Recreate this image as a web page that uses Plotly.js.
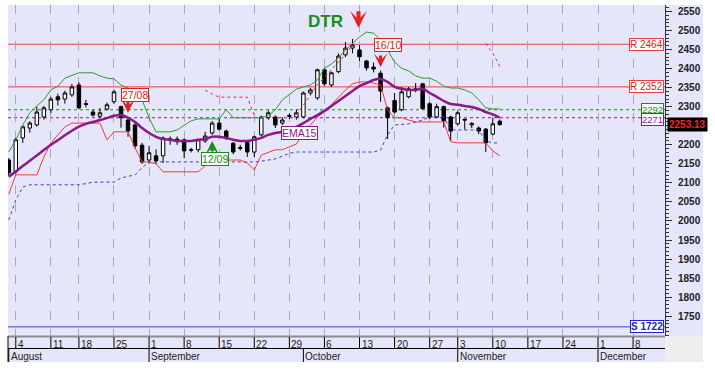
<!DOCTYPE html>
<html><head><meta charset="utf-8">
<script src="https://cdn.plot.ly/plotly-3.0.1.min.js"></script>
<style>html,body{margin:0;padding:0;background:#fff;}#chart{width:715px;height:374px;}</style>
</head><body><div id="chart"></div>
<script>
// ---- trading days (categories), incl. empty future days to the right edge
const dates = [
 '2014-08-01','2014-08-04','2014-08-05','2014-08-06','2014-08-07','2014-08-08','2014-08-11','2014-08-12','2014-08-13','2014-08-14',
 '2014-08-18','2014-08-19','2014-08-20','2014-08-21','2014-08-22','2014-08-25','2014-08-26','2014-08-27','2014-08-28','2014-08-29',
 '2014-09-01','2014-09-02','2014-09-03','2014-09-04','2014-09-05','2014-09-08','2014-09-09','2014-09-10','2014-09-11','2014-09-12',
 '2014-09-15','2014-09-16','2014-09-17','2014-09-18','2014-09-19','2014-09-22','2014-09-23','2014-09-24','2014-09-25','2014-09-26',
 '2014-09-29','2014-09-30','2014-10-01','2014-10-02','2014-10-03','2014-10-06','2014-10-07','2014-10-08','2014-10-09','2014-10-10',
 '2014-10-13','2014-10-14','2014-10-15','2014-10-16','2014-10-17','2014-10-20','2014-10-21','2014-10-22','2014-10-23','2014-10-24',
 '2014-10-27','2014-10-29','2014-10-30','2014-10-31','2014-11-03','2014-11-04','2014-11-05','2014-11-06','2014-11-07','2014-11-10',
 '2014-11-11',
 '2014-11-12','2014-11-13','2014-11-14','2014-11-17','2014-11-18','2014-11-19','2014-11-20','2014-11-21','2014-11-24','2014-11-25',
 '2014-11-26','2014-11-27','2014-11-28','2014-12-01','2014-12-02','2014-12-03','2014-12-04','2014-12-05','2014-12-08','2014-12-09',
 '2014-12-10','2014-12-11','2014-12-12'
];
const nBars = 71;

const open = [2160,2129,2218,2244,2252,2273,2292,2326,2320,2331, 2357,2308,2286,2275,2294,2313,2300,2265,2252,2199,
 2160,2171,2171,2216,2215,2213,2187,2187,2210,2231, 2257,2236,2204,2193,2206,2181,2226,2271,2273,2257,
 2277,2273,2273,2336,2323,2397,2357,2392,2436,2454, 2449,2420,2404,2388,2297,2316,2292,2326,2347,2360,
 2308,2273,2300,2273,2255,2267,2252,2244,2241,2228, 2262];
const high = [2165,2218,2252,2262,2300,2302,2326,2334,2342,2360, 2364,2318,2292,2296,2311,2345,2303,2268,2256,2205,
 2197,2188,2222,2222,2222,2216,2192,2216,2234,2262, 2270,2240,2207,2200,2209,2224,2276,2290,2277,2273,
 2282,2292,2340,2350,2400,2402,2392,2440,2470,2478, 2462,2423,2416,2395,2300,2336,2352,2352,2362,2362,
 2312,2308,2303,2276,2290,2268,2260,2248,2244,2270, 2266];
const low = [2118,2124,2205,2232,2248,2266,2283,2303,2308,2326, 2293,2298,2274,2270,2290,2308,2245,2221,2190,2150,
 2150,2150,2152,2200,2200,2165,2180,2180,2205,2226, 2237,2213,2175,2185,2168,2168,2222,2266,2244,2252,
 2268,2266,2270,2330,2318,2355,2352,2388,2430,2440, 2420,2395,2390,2313,2215,2282,2288,2322,2338,2292,
 2268,2270,2245,2210,2250,2240,2244,2228,2181,2225, 2250];
const close = [2126,2213,2247,2257,2286,2297,2320,2318,2336,2352, 2297,2306,2278,2284,2305,2339,2271,2236,2197,2155,
 2179,2158,2218,2214,2208,2184,2186,2213,2223,2257, 2241,2218,2181,2191,2181,2221,2273,2284,2252,2265,
 2275,2284,2336,2344,2397,2360,2389,2433,2454,2462, 2431,2402,2399,2341,2271,2286,2339,2347,2345,2295,
 2273,2300,2263,2236,2284,2265,2256,2236,2205,2255, 2253.13];

const ema15 = [2116,2130,2144,2158,2172,2186,2200,2212,2225,2237, 2248,2255,2260,2265,2270,2276,2278,2271,2260,2244,
 2231,2221,2215,2213,2210,2210,2210,2213,2215,2221, 2221,2218,2213,2210,2210,2213,2218,2226,2231,2234,
 2239,2247,2257,2268,2278,2289,2302,2315,2328,2341, 2354,2362,2370,2373,2365,2352,2347,2344,2344,2347,
 2336,2326,2315,2307,2305,2302,2299,2294,2286,2280, 2271];
const upperBand = [2181,2213,2252,2284,2302,2318,2344,2354,2375,2383, 2389,2389,2389,2381,2375,2373,2357,2349,2339,2318,
 2271,2234,2234,2234,2239,2252,2263,2268,2268,2268, 2268,2292,2271,2271,2271,2271,2271,2276,2292,2318,
 2333,2346,2352,2357,2370,2401,2412,2428,2449,2467, 2483,2496,2493,2475,2449,2417,2401,2394,2381,2375,
 2375,2367,2354,2349,2349,2344,2336,2318,2297,2294, 2294];
const lowerBand = [2070,2121,2121,2121,2121,2168,2205,2226,2247,2257, 2257,2257,2257,2257,2213,2234,2234,2234,2192,2155,
 2155,2150,2129,2129,2129,2129,2129,2129,2145,2160, 2160,2160,2160,2160,2152,2134,2173,2181,2187,2187,
 2194,2202,2231,2252,2273,2286,2305,2326,2344,2360, 2365,2365,2362,2357,2292,2271,2271,2265,2260,2260,
 2260,2260,2260,2208,2205,2205,2205,2205,2205,2184, 2171];
const stopLow = [2003,2055,2089,2095,2095,2095,2095,2095,2095,2095, 2095,2098,2102,2102,2102,2102,2113,2118,2121,2140,
 2155,2155,2155,2155,2155,2155,2155,2155,2155,2155, 2155,2155,2155,2155,2155,2155,2157,2160,2163,2170,
 2178,2181,2181,2181,2181,2181,2181,2181,2181,2181, 2181,2181,2181,2186,2226,2252,2254,2255,2260,2265,
 2273,2273,2273,2239,2239,2239,2239,2239,2210,2205, 2205];
const stopHigh = [null,null,null,null,null,null,null,null,null,null, null,null,null,null,null,null,null,null,null,null,
 null,null,null,null,null,null,null,null,2344,2333, 2325,2325,2325,2325,2325,2278,null,null,null,null,
 null,2278,2305,2330,2357,2377,2397,2417,2437,2462, null,null,null,null,null,null,null,null,null,null,
 null,null,null,null,null,null,null,null,2466,2440, 2406];

const resistance = [2464, 2352];
const support = [1722];
const emaLevel = 2271;
const bandLevel = 2292;
const lastPrice = 2253.13;
const yTicks = [1750,1800,1850,1900,1950,2000,2050,2100,2150,2200,2250,2300,2350,2400,2450,2500,2550];
const yTickText = ['1750','1800','1850','1900','1950','2000','2050','2100','2150','2200','','2300','2350','2400','2450','2500','2550'];

const weekTicks = ['2014-08-04','2014-08-11','2014-08-18','2014-08-25','2014-09-01','2014-09-08','2014-09-15','2014-09-22','2014-09-29',
 '2014-10-06','2014-10-13','2014-10-20','2014-10-27','2014-11-03','2014-11-10','2014-11-17','2014-11-24','2014-12-01','2014-12-08'];
const weekLabels = ['4','11','18','25','1','8','15','22','29','6','13','20','27','3','10','17','24','1','8'];
const monthStarts = ['2014-08-01','2014-09-01','2014-10-01','2014-11-03','2014-12-01'];
const monthLabels = ['August','September','October','November','December'];

const signals = [
  {date:'2014-08-27', label:'27/08', color:'#e02020', dir:'down', tip:2284, labelY:2332, lx:6.5},
  {date:'2014-10-16', label:'16/10', color:'#e02020', dir:'down', tip:2404, labelY:2462, lx:7},
  {date:'2014-09-12', label:'12/09', color:'#1a8c1a', dir:'up',   tip:2210, labelY:2164, lx:3}
];

const FONT = 'Liberation Sans, Arial, sans-serif';
const LAV = '#e6e6fa';
const x = dates.slice(0, nBars);

const traces = [
  {type:'scatter', mode:'lines', x:x, y:stopLow, line:{color:'#3a3ad0', width:1, dash:'dot'}, hoverinfo:'skip'},
  {type:'scatter', mode:'lines', x:x, y:stopHigh, line:{color:'#e03030', width:1, dash:'dot'}, connectgaps:false, hoverinfo:'skip'},
  {type:'scatter', mode:'lines', x:x, y:upperBand, line:{color:'#2e9a2e', width:1}, hoverinfo:'skip'},
  {type:'scatter', mode:'lines', x:x, y:lowerBand, line:{color:'#f03a3a', width:1}, hoverinfo:'skip'},
  {type:'candlestick', x:x, open:open, high:high, low:low, close:close,
   increasing:{line:{color:'#000', width:1}, fillcolor:'#ffffff'},
   decreasing:{line:{color:'#000', width:1}, fillcolor:'#000000'},
   whiskerwidth:0, hoverinfo:'skip'},
  {type:'scatter', mode:'lines', x:x, y:ema15, line:{color:'#8a1a8a', width:2.5, shape:'spline'}, hoverinfo:'skip'}
];

const W = 657, H = 331;
const px = v => v / W, py = v => v / H;
const shapes = [];
const annotations = [];

// right axis panel and bottom date band
shapes.push({type:'rect', xref:'paper', yref:'paper', x0:1, x1:1+px(38), y0:0, y1:1, fillcolor:LAV, line:{width:0}, layer:'below'});
shapes.push({type:'rect', xref:'paper', yref:'paper', x0:0, x1:1, y0:-py(26), y1:0, fillcolor:LAV, line:{width:0}, layer:'below'});
shapes.push({type:'rect', xref:'paper', yref:'paper', x0:1, x1:1+px(38), y0:-py(26), y1:0, fillcolor:'#eeeeee', line:{width:0}, layer:'below'});
shapes.push({type:'line', xref:'paper', yref:'paper', x0:0, x1:1, y0:-py(0.5), y1:-py(0.5), line:{color:'#8c8c8c', width:2}});
shapes.push({type:'line', xref:'paper', yref:'paper', x0:0, x1:1, y0:-py(12.5), y1:-py(12.5), line:{color:'#000', width:1}});
shapes.push({type:'line', xref:'paper', yref:'paper', x0:0, x1:0, y0:-py(26), y1:0, line:{color:'#000', width:1}});

weekTicks.forEach((d, k) => {
  shapes.push({type:'line', xref:'x', yref:'paper', x0:d, x1:d, y0:-py(12.5), y1:-py(1), line:{color:'#000', width:1}});
  annotations.push({x:d, xref:'x', y:-py(1), yref:'paper', xanchor:'left', yanchor:'top', xshift:0,
    text:weekLabels[k], showarrow:false, font:{family:FONT, size:10, color:'#222'}});
});
monthStarts.forEach((d, k) => {
  shapes.push({type:'line', xref:'x', yref:'paper', x0:d, x1:d, y0:-py(26), y1:-py(12.5), line:{color:'#000', width:1}});
  annotations.push({x:d, xref:'x', y:-py(12.5), yref:'paper', xanchor:'left', yanchor:'top', xshift:0,
    text:monthLabels[k], showarrow:false, font:{family:FONT, size:10, color:'#222'}});
});

// horizontal levels
resistance.forEach(v => {
  shapes.push({type:'line', xref:'paper', yref:'y', x0:0, x1:1, y0:v, y1:v, line:{color:'#e84040', width:1}, layer:'between'});
  annotations.push({x:1, xref:'paper', y:v, yref:'y', xanchor:'right', xshift:-1, text:'R ' + v, showarrow:false,
    bgcolor:'#fff', bordercolor:'#e84040', borderwidth:1, borderpad:0, font:{family:FONT, size:10, color:'#e02020'}});
});
support.forEach(v => {
  shapes.push({type:'line', xref:'paper', yref:'y', x0:0, x1:1, y0:v, y1:v, line:{color:'#3a3ad0', width:1}, layer:'between'});
  annotations.push({x:1, xref:'paper', y:v, yref:'y', xanchor:'right', xshift:-1, text:'<b>S ' + v + '</b>', showarrow:false,
    bgcolor:'#fff', bordercolor:'#2020d0', borderwidth:1, borderpad:0, font:{family:FONT, size:10, color:'#2020d0'}});
});
shapes.push({type:'line', xref:'paper', yref:'y', x0:0, x1:1, y0:bandLevel, y1:bandLevel, line:{color:'#1a8c1a', width:1, dash:'dot'}, layer:'between'});
annotations.push({x:1, xref:'paper', y:bandLevel, yref:'y', xanchor:'right', xshift:-1, yshift:0.5, text:String(bandLevel), showarrow:false,
  bgcolor:'#fff', bordercolor:'#1a8c1a', borderwidth:1, borderpad:0, font:{family:FONT, size:9.5, color:'#1a8c1a'}});
shapes.push({type:'line', xref:'paper', yref:'y', x0:0, x1:1, y0:emaLevel, y1:emaLevel, line:{color:'#8a1a8a', width:1, dash:'dot'}, layer:'between'});
annotations.push({x:1, xref:'paper', y:emaLevel, yref:'y', xanchor:'right', xshift:-1, yshift:-1.5, text:String(emaLevel), showarrow:false,
  bgcolor:'#fff', bordercolor:'#8a1a8a', borderwidth:1, borderpad:0, font:{family:FONT, size:9.5, color:'#8a1a8a'}});
annotations.push({x:1, xref:'paper', y:lastPrice, yref:'y', xanchor:'left', xshift:2, text:'<b>' + lastPrice.toFixed(2) + '</b>', showarrow:false,
  bgcolor:'#000', borderpad:1, font:{family:FONT, size:10, color:'#ff2020'}});

// signals
signals.forEach(s => {
  annotations.push({x:s.date, xref:'x', y:s.tip, yref:'y', text:'', showarrow:true, arrowhead:3, arrowsize:0.75,
    arrowwidth:3, arrowcolor:s.color, ax:0, ay:(s.dir === 'down' ? -13 : 12), standoff:0});
  annotations.push({x:s.date, xref:'x', xshift:s.lx, y:s.labelY, yref:'y', text:s.label, showarrow:false,
    bgcolor:'#fff', bordercolor:s.color, borderwidth:1, borderpad:0, font:{family:FONT, size:10.5, color:s.color}});
});
annotations.push({x:'2014-10-06', xref:'x', xshift:1, y:2525, yref:'y', text:'<b>DTR</b>', showarrow:false,
  font:{family:FONT, size:17, color:'#1a8c1a'}});
annotations.push({x:'2014-10-13', xref:'x', xshift:-1, y:2507, yref:'y', text:'', showarrow:true, arrowhead:3, arrowsize:0.7,
  arrowwidth:4, arrowcolor:'#e82020', ax:0, ay:-18, standoff:0});
annotations.push({x:'2014-09-30', xref:'x', xshift:3.5, y:2231, yref:'y', text:'EMA15', showarrow:false,
  bgcolor:'#fff', bordercolor:'#8a1a8a', borderwidth:1, borderpad:0, font:{family:FONT, size:10.5, color:'#8a1a8a'}});

const layout = {
  width:715, height:374,
  margin:{l:8, r:50, t:5, b:38, pad:0},
  paper_bgcolor:'#ffffff', plot_bgcolor:LAV,
  showlegend:false, hovermode:false, dragmode:false,
  font:{family:FONT, size:10, color:'#222'},
  xaxis:{type:'category', categoryorder:'array', categoryarray:dates, range:[-0.11, 93.55],
    tickvals:weekTicks, showticklabels:false, ticks:'', showgrid:true, gridcolor:'#a8a8b8', gridwidth:1, griddash:'dash',
    zeroline:false, showline:false, rangeslider:{visible:false}, fixedrange:true},
  yaxis:{side:'right', range:[1698, 2567], tickmode:'array', tickvals:yTicks, ticktext:yTickText,
    ticks:'outside', ticklen:6, tickcolor:'#333', tickwidth:1,
    showline:true, linecolor:'#333', linewidth:1, showgrid:false, zeroline:false, ticklabelstandoff:4,
    tickfont:{family:FONT, size:10, color:'#222', weight:'bold'},
    minor:{ticks:'outside', ticklen:3, dtick:10, tickcolor:'#333', showgrid:false}, fixedrange:true},
  shapes:shapes, annotations:annotations
};

Plotly.newPlot('chart', traces, layout, {staticPlot:true, displayModeBar:false});
</script></body></html>
